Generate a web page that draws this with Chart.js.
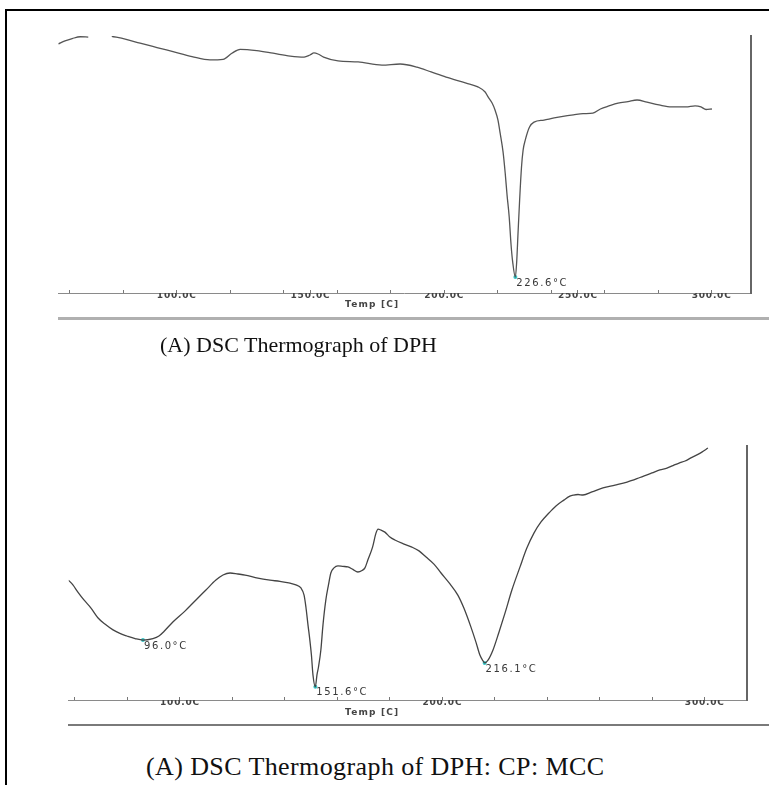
<!DOCTYPE html>
<html>
<head>
<meta charset="utf-8">
<script src="https://cdn.jsdelivr.net/npm/chart.js@4.4.1/dist/chart.umd.min.js"></script>
<style>
html,body{margin:0;padding:0;background:#fff;}
#page{position:relative;width:769px;height:785px;overflow:hidden;background:#fff;}
.frame-top{position:absolute;left:5px;top:9px;width:764px;height:2px;background:#000;}
.frame-left{position:absolute;left:5px;top:9px;width:2px;height:776px;background:#000;}
.sep{position:absolute;}
canvas{position:absolute;left:0;}
.cap{position:absolute;font-family:"Liberation Serif","Times New Roman",serif;color:#111;white-space:nowrap;}
.axt{position:absolute;font-family:"DejaVu Sans",sans-serif;font-weight:bold;font-size:9px;line-height:11px;color:#444;letter-spacing:1.2px;white-space:nowrap;}
</style>
</head>
<body>
<div id="page">
  <div class="frame-top"></div>
  <div class="frame-left"></div>
  <canvas id="c1" width="769" height="330" style="top:0px"></canvas>
  <canvas id="c2" width="769" height="330" style="top:400px"></canvas>
  <div class="sep" style="left:58px;top:317px;width:711px;height:3px;background:#b0b0b0;"></div>
  <div class="sep" style="left:68px;top:724px;width:701px;height:2px;background:#7a7a7a;"></div>
  <div class="axt" style="left:345px;top:299px;">Temp [C]</div>
  <div class="axt" style="left:345px;top:707px;">Temp [C]</div>
  <div class="cap" style="left:160px;top:334px;font-size:22px;line-height:22px;">(A) DSC Thermograph of DPH</div>
  <div class="cap" style="left:146px;top:754px;font-size:26px;line-height:26px;letter-spacing:0.4px;">(A) DSC Thermograph of DPH: CP: MCC</div>
</div>
<script>
// ---- Top thermogram (DPH) ----
const topTemp = [55.7, 58.2, 60.9, 63.9, 66.9, 71.0, 75.7, 80.7, 86.3, 92.6, 98.6, 105.7, 112.4, 117.3, 120.6, 123.7, 129.9, 136.0, 142.4, 147.6, 149.8, 151.3, 152.8, 154.9, 160.3, 167.8, 176.7, 183.5, 189.8, 195.1, 200.7, 208.2, 212.6, 215.3, 216.4, 217.9, 219.0, 220.1, 220.9, 222.0, 222.8, 223.5, 224.3, 225.0, 225.6, 226.6, 227.1, 227.6, 228.2, 228.9, 229.5, 230.3, 231.9, 233.6, 237.3, 241.1, 244.4, 248.3, 251.9, 255.6, 258.4, 261.6, 265.0, 268.7, 272.1, 275.8, 280.3, 285.0, 290.4, 293.8, 296.0, 297.9, 300.1];
const topHeat = [96.9, 98.1, 99.0, 99.7, 99.6, null, 99.9, 98.8, 97.2, 95.5, 93.9, 92.0, 90.7, 90.9, 93.3, 94.8, 94.3, 93.3, 92.2, 91.8, 92.6, 93.4, 93.0, 91.8, 90.3, 89.9, 88.7, 89.1, 87.9, 86.0, 84.0, 81.7, 80.2, 78.2, 76.3, 73.9, 71.2, 67.3, 62.3, 54.9, 46.7, 38.1, 29.6, 18.7, 12.1, 6.2, 12.1, 23.3, 36.2, 49.0, 55.6, 59.5, 64.6, 66.5, 67.3, 68.1, 68.7, 69.3, 69.8, 70.0, 71.6, 72.8, 73.9, 74.5, 75.1, 74.3, 73.2, 72.4, 72.4, 72.8, 72.4, 71.4, 71.6];
const topPeakTemp = [226.6];
const topPeakHeat = [6.2];
const topPeakLabels = ['226.6\u00B0C'];
const topTickTemps = [60, 80, 100, 120, 140, 150, 160, 180, 200, 220, 240, 250, 260, 280, 300];
const topLabelTemps = [100, 150, 200, 250, 300];
const topLabelTexts = ['100.0C', '150.0C', '200.0C', '250.0C', '300.0C'];

// ---- Bottom thermogram (DPH : CP : MCC) ----
const botTemp = [57.5, 59.2, 61.1, 63.4, 66.1, 68.8, 71.4, 74.5, 77.1, 79.8, 82.9, 85.9, 89.7, 92.0, 93.9, 97.3, 101.9, 106.1, 109.9, 113.7, 116.4, 119.1, 122.1, 124.8, 129.7, 134.3, 138.1, 141.5, 144.2, 146.1, 147.3, 148.0, 148.8, 149.5, 150.1, 150.7, 151.6, 152.2, 152.8, 153.7, 154.5, 155.6, 156.6, 157.5, 158.7, 160.2, 162.1, 164.0, 165.9, 167.8, 169.4, 170.5, 171.6, 173.4, 174.7, 175.5, 176.6, 178.1, 180.0, 181.9, 185.4, 188.4, 191.1, 193.8, 196.8, 199.5, 202.9, 205.9, 208.2, 210.9, 212.8, 214.3, 215.5, 216.1, 217.4, 219.3, 221.6, 223.9, 226.5, 229.6, 232.2, 234.9, 237.6, 240.6, 243.3, 246.3, 248.6, 250.0, 251.7, 253.6, 257.0, 261.2, 265.8, 270.4, 275.3, 279.9, 282.9, 285.6, 287.9, 290.2, 292.5, 294.7, 297.0, 298.9, 301.2];
const botHeat = [47.2, 45.3, 42.5, 39.4, 36.2, 32.3, 29.9, 27.6, 26.2, 25.2, 24.2, 23.6, 24.2, 25.2, 27.0, 30.7, 35.0, 39.4, 43.3, 47.2, 49.2, 50.0, 49.6, 49.2, 48.0, 47.2, 46.7, 46.1, 45.3, 44.1, 41.3, 36.6, 29.5, 23.6, 17.7, 9.8, 5.2, 9.8, 13.0, 19.7, 29.5, 39.4, 45.3, 50.0, 52.0, 52.8, 52.6, 52.4, 51.4, 50.4, 51.0, 52.0, 55.1, 60.2, 65.7, 67.3, 66.9, 66.1, 64.2, 63.0, 61.4, 60.2, 58.7, 56.3, 53.5, 50.0, 45.7, 41.3, 36.2, 28.7, 22.8, 17.7, 15.4, 14.6, 15.7, 19.7, 26.8, 34.3, 43.3, 52.4, 59.8, 65.7, 70.1, 73.6, 76.4, 78.7, 80.3, 80.7, 80.9, 80.7, 81.9, 83.5, 84.6, 85.8, 87.6, 89.4, 90.6, 91.3, 92.3, 93.3, 94.1, 95.3, 96.5, 97.6, 99.2];
const botPeakTemp = [85.9, 151.6, 216.1];
const botPeakHeat = [23.6, 5.2, 14.6];
const botPeakLabels = ['96.0\u00B0C', '151.6\u00B0C', '216.1\u00B0C'];
const botTickTemps = [60, 80, 100, 120, 140, 160, 180, 200, 220, 240, 260, 280, 300];
const botLabelTemps = [100, 200, 300];
const botLabelTexts = ['100.0C', '200.0C', '300.0C'];

const spacingPlugin = {
  id: 'spacing',
  beforeDraw(chart) {
    if ('letterSpacing' in chart.ctx) chart.ctx.letterSpacing = '0.8px';
  }
};
const peakLabelPlugin = {
  id: 'peakLabels',
  afterDatasetsDraw(chart, args, opts) {
    const meta = chart.getDatasetMeta(1);
    const ctx = chart.ctx;
    ctx.save();
    ctx.font = '10px "DejaVu Sans"';
    ctx.fillStyle = '#383838';
    ctx.textAlign = 'left';
    ctx.textBaseline = 'top';
    if ('letterSpacing' in ctx) ctx.letterSpacing = '1.6px';
    meta.data.forEach((pt, i) => ctx.fillText(opts.labels[i], pt.x + 1, pt.y + 1));
    ctx.restore();
  }
};

function makeChart(id, temps, heats, pTemps, pHeats, pLabels, tickTemps, labelTemps, labelTexts, cfg) {
  const pts = temps.map((t, i) => ({x: t, y: heats[i]}));
  const peaks = pTemps.map((t, i) => ({x: t, y: pHeats[i]}));
  return new Chart(document.getElementById(id), {
    type: 'line',
    data: {
      datasets: [
        {data: pts, borderColor: cfg.lineColor, borderWidth: 1.3, pointRadius: 0, cubicInterpolationMode: 'monotone', spanGaps: false, fill: false},
        {data: peaks, showLine: false, pointRadius: 2, pointBackgroundColor: '#33c6c6', pointBorderWidth: 0, borderColor: '#33c6c6'}
      ]
    },
    options: {
      responsive: false,
      animation: false,
      events: [],
      layout: {padding: cfg.padding},
      plugins: {legend: {display: false}, tooltip: {enabled: false}, title: {display: false}, peakLabels: {labels: pLabels}},
      scales: {
        x: {
          type: 'linear', position: 'bottom', min: cfg.xmin, max: cfg.xmax,
          afterBuildTicks: s => { s.ticks = tickTemps.map(v => ({value: v})); },
          afterFit: s => { s.height = cfg.axisH; },
          ticks: {
            autoSkip: false, maxRotation: 0, minRotation: 0, padding: 0,
            color: '#444', font: {family: 'DejaVu Sans', size: 9, weight: 'bold'},
            callback: v => { const k = labelTemps.indexOf(v); return k >= 0 ? labelTexts[k] : ''; }
          },
          grid: {drawOnChartArea: false, drawTicks: true, tickLength: -3, color: '#777', lineWidth: 1},
          border: {display: true, color: '#8a8a8a', width: 1}
        },
        y: {
          type: 'linear', position: 'right', min: 0, max: 100,
          afterFit: s => { s.width = 0; },
          ticks: {display: false},
          grid: {drawOnChartArea: false, drawTicks: false},
          border: {display: true, color: '#666', width: 2}
        }
      }
    },
    plugins: [spacingPlugin, peakLabelPlugin]
  });
}

makeChart('c1', topTemp, topHeat, topPeakTemp, topPeakHeat, topPeakLabels, topTickTemps, topLabelTemps, topLabelTexts,
  {xmin: 55.7, xmax: 314.6, padding: {left: 58.3, top: 36, right: 18.3, bottom: 0}, axisH: 37, lineColor: '#555'});
makeChart('c2', botTemp, botHeat, botPeakTemp, botPeakHeat, botPeakLabels, botTickTemps, botLabelTemps, botLabelTexts,
  {xmin: 57.6, xmax: 316.1, padding: {left: 68.7, top: 46, right: 22, bottom: 0}, axisH: 30, lineColor: '#444'});
</script>
</body>
</html>
